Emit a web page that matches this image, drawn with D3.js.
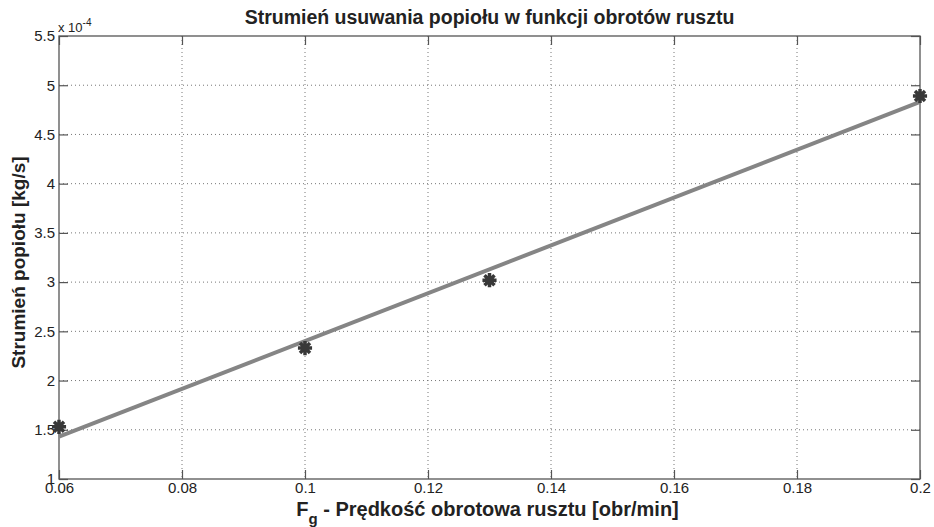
<!DOCTYPE html>
<html>
<head>
<meta charset="utf-8">
<script src="https://cdn.jsdelivr.net/npm/d3@7"></script>
<style>
  body { margin: 0; background: #fff; }
  svg { font-family: "Liberation Sans", Arial, sans-serif; }
</style>
</head>
<body>
<div id="chart"></div>
<script>
// dane pomiarowe (oś Y w jednostkach 1e-4 kg/s)
const obroty = [0.06, 0.10, 0.13, 0.20];
const strumien = [1.53, 2.33, 3.02, 4.89];
// prosta dopasowana
const fitX = [0.06, 0.20];
const fitY = [1.43, 4.83];
const xTicks = [0.06, 0.08, 0.1, 0.12, 0.14, 0.16, 0.18, 0.2];
const yTicks = [1, 1.5, 2, 2.5, 3, 3.5, 4, 4.5, 5, 5.5];

const width = 934, height = 527;
const margin = { top: 36, right: 14, bottom: 48, left: 59 };

const svg = d3.select("#chart").append("svg")
  .attr("width", width)
  .attr("height", height);

const x = d3.scaleLinear()
  .domain([0.06, 0.2])
  .range([margin.left, width - margin.right]);

const y = d3.scaleLinear()
  .domain([1, 5.5])
  .range([height - margin.bottom, margin.top]);

const x0 = margin.left, x1 = width - margin.right;
const y0 = height - margin.bottom, y1 = margin.top;
const axisColor = "#555";

// siatka
const grid = svg.append("g").attr("stroke", "#777").attr("stroke-width", 1)
  .attr("stroke-dasharray", "1,3");
grid.selectAll("line.gx")
  .data(xTicks.slice(1, -1))
  .join("line")
  .attr("class", "gx")
  .attr("x1", d => x(d)).attr("x2", d => x(d))
  .attr("y1", y1).attr("y2", y0);
grid.selectAll("line.gy")
  .data(yTicks.slice(1, -1))
  .join("line")
  .attr("class", "gy")
  .attr("x1", x0).attr("x2", x1)
  .attr("y1", d => y(d)).attr("y2", d => y(d));

// osie
const fmt = d => String(+d.toFixed(2));
const tl = 9;

svg.append("g")
  .attr("transform", `translate(0,${y0})`)
  .call(d3.axisBottom(x).tickValues(xTicks).tickFormat(fmt).tickSizeInner(-tl).tickSizeOuter(0).tickPadding(3))
  .call(g => g.select(".domain").remove());

svg.append("g")
  .attr("transform", `translate(0,${y1})`)
  .call(d3.axisTop(x).tickValues(xTicks).tickFormat("").tickSizeInner(-tl).tickSizeOuter(0))
  .call(g => g.select(".domain").remove());

svg.append("g")
  .attr("transform", `translate(${x0},0)`)
  .call(d3.axisLeft(y).tickValues(yTicks).tickFormat(fmt).tickSizeInner(-tl).tickSizeOuter(0).tickPadding(4))
  .call(g => g.select(".domain").remove());

svg.append("g")
  .attr("transform", `translate(${x1},0)`)
  .call(d3.axisRight(y).tickValues(yTicks).tickFormat("").tickSizeInner(-tl).tickSizeOuter(0))
  .call(g => g.select(".domain").remove());

svg.selectAll(".tick line").attr("stroke", axisColor).attr("stroke-width", 1.2);
svg.selectAll(".tick text")
  .attr("fill", "#222")
  .style("font-size", "15px");

// ramka
svg.append("rect")
  .attr("x", x0).attr("y", y1)
  .attr("width", x1 - x0).attr("height", y0 - y1)
  .attr("fill", "none")
  .attr("stroke", axisColor)
  .attr("stroke-width", 1.3);

// prosta
svg.append("path")
  .datum(fitX.map((d, i) => [d, fitY[i]]))
  .attr("fill", "none")
  .attr("stroke", "#858585")
  .attr("stroke-width", 4)
  .attr("d", d3.line().x(d => x(d[0])).y(d => y(d[1])));

// punkty pomiarowe (gwiazdki, 8 ramion jak w MATLAB)
const star8 = {
  draw(ctx, size) {
    const r = Math.sqrt(size) / 2;
    for (let k = 0; k < 4; k++) {
      const a = k * Math.PI / 4;
      ctx.moveTo(-r * Math.cos(a), -r * Math.sin(a));
      ctx.lineTo(r * Math.cos(a), r * Math.sin(a));
    }
  }
};
svg.append("g")
  .selectAll("path")
  .data(obroty.map((d, i) => [d, strumien[i]]))
  .join("path")
  .attr("transform", d => `translate(${x(d[0])},${y(d[1])})`)
  .attr("d", d3.symbol().type(star8).size(200))
  .attr("fill", "none")
  .attr("stroke", "#383838")
  .attr("stroke-width", 3.5);

// mnożnik
const mult = svg.append("text")
  .attr("x", x0 - 1)
  .attr("y", y1 - 4)
  .style("font-size", "13px")
  .attr("fill", "#222");
mult.append("tspan").text("x 10");
mult.append("tspan").attr("dy", -6).style("font-size", "10px").text("-4");

// tytuł
svg.append("text")
  .attr("x", (x0 + x1) / 2)
  .attr("y", 24)
  .attr("text-anchor", "middle")
  .style("font-size", "19.5px")
  .style("font-weight", "bold")
  .attr("fill", "#222")
  .text("Strumień usuwania popiołu w funkcji obrotów rusztu");

// opis osi X
const xl = svg.append("text")
  .attr("x", (x0 + x1) / 2 - 2)
  .attr("y", 516)
  .attr("text-anchor", "middle")
  .style("font-size", "20px")
  .style("font-weight", "bold")
  .attr("fill", "#222");
xl.append("tspan").text("F");
xl.append("tspan").attr("dy", 8).style("font-size", "15px").text("g");
xl.append("tspan").attr("dy", -8).text(" - Prędkość obrotowa rusztu [obr/min]");

// opis osi Y
svg.append("text")
  .attr("transform", `translate(25,${(y0 + y1) / 2 + 5}) rotate(-90)`)
  .attr("text-anchor", "middle")
  .style("font-size", "19px")
  .style("font-weight", "bold")
  .attr("fill", "#222")
  .text("Strumień popiołu [kg/s]");
</script>
</body>
</html>
